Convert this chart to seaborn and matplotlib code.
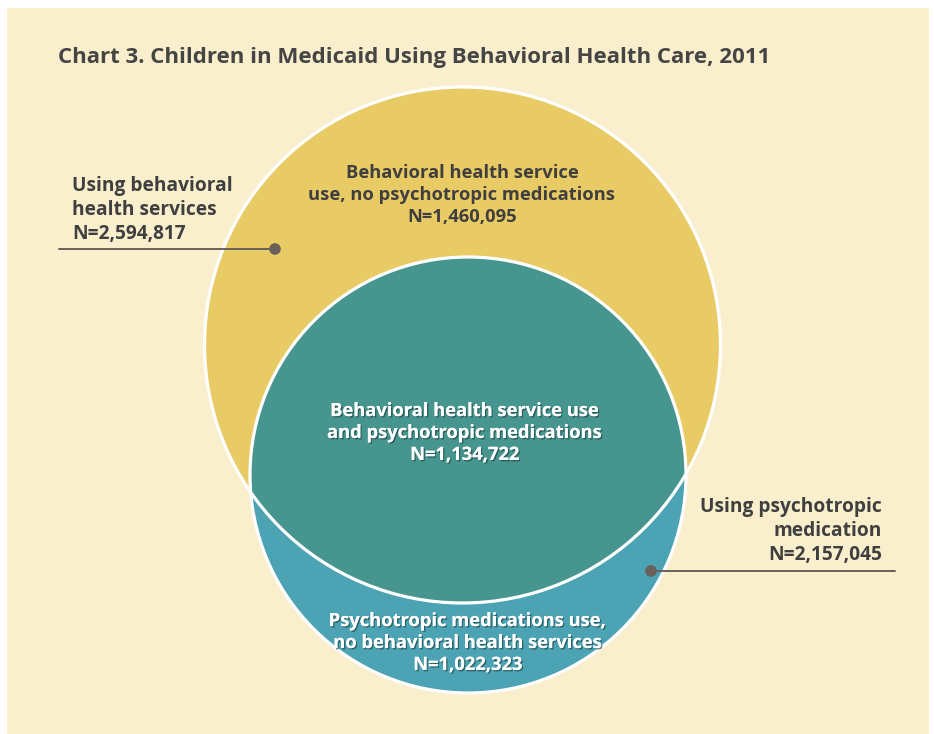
import matplotlib
matplotlib.use("Agg")
import matplotlib.pyplot as plt
import matplotlib.patches as mpatches
import matplotlib.patheffects as pe
import seaborn as sns
import pandas as pd

# ---- data ----
groups = ["Using behavioral health services", "Using psychotropic medication"]
group_totals = [2594817, 2157045]
segments = [
    "Behavioral health service use, no psychotropic medications",
    "Behavioral health service use and psychotropic medications",
    "Psychotropic medications use, no behavioral health services",
]
segment_counts = [1460095, 1134722, 1022323]
title = "Chart 3. Children in Medicaid Using Behavioral Health Care, 2011"

sns.set_theme(style="white")
plt.rcParams["font.family"] = ["Open Sans", "DejaVu Sans"]

W, H = 934, 734
fig = plt.figure(figsize=(W / 100, H / 100), dpi=100)
fig.patch.set_facecolor("white")
ax = fig.add_axes([0, 0, 1, 1])
ax.set_xlim(0, W)
ax.set_ylim(H, 0)
ax.set_aspect("equal")
ax.axis("off")

BG = "#FAEFCD"
YEL = "#E9CB65"
TEAL = "#46958F"
BLUE = "#4BA3B3"
DARK = "#3F3F3F"
LEAD = "#6B615B"

ax.add_patch(mpatches.Rectangle((7, 8), 922, 730, facecolor=BG, edgecolor="none", zorder=0))

# circles
c1 = (462.5, 345.0); r1 = 258.0
c2 = (468.0, 475.0); r2 = 218.0
yel = mpatches.Circle(c1, r1, facecolor=YEL, edgecolor="none", zorder=1)
ax.add_patch(yel)
blue = mpatches.Circle(c2, r2, facecolor=BLUE, edgecolor="none", zorder=2)
ax.add_patch(blue)
clipc = mpatches.Circle(c1, r1, transform=ax.transData)
teal = mpatches.Circle(c2, r2, facecolor=TEAL, edgecolor="none", zorder=3)
ax.add_patch(teal)
teal.set_clip_path(clipc)
for c, r in [(c1, r1), (c2, r2)]:
    ax.add_patch(mpatches.Circle(c, r, facecolor="none", edgecolor="white", lw=2.3, zorder=4))

# leader lines and dots
ax.plot([59, 275], [249, 249], color=LEAD, lw=1.4, zorder=5)
ax.plot([651, 895], [571, 571], color=LEAD, lw=1.4, zorder=5)
dots = pd.DataFrame({"x": [275, 651], "y": [249, 571], "g": groups})
sns.scatterplot(data=dots, x="x", y="y", color=LEAD, s=70, edgecolor="none", ax=ax, zorder=6, legend=False)
ax.set_xlabel(""); ax.set_ylabel("")
ax.set_xlim(0, W); ax.set_ylim(H, 0)

fs = 13.2
fo = 13.8
ax.text(58, 58, title, fontsize=16.0, fontweight="bold", color="#454545", va="center", ha="left", zorder=7)

def fmt(n):
    return f"N={n:,}"

ax.text(72, 210, "Using behavioral\nhealth services\n" + fmt(group_totals[0]),
        fontsize=fo, fontweight="bold", color=DARK, ha="left", va="center", linespacing=1.25, zorder=7)
ax.text(882, 531, "Using psychotropic\nmedication\n" + fmt(group_totals[1]),
        fontsize=fo, fontweight="bold", color=DARK, ha="right", va="center", multialignment="right",
        linespacing=1.25, zorder=7)

ax.text(462, 195, "Behavioral health service\nuse, no psychotropic medications\n" + fmt(segment_counts[0]),
        fontsize=fs, fontweight="bold", color=DARK, ha="center", va="center", linespacing=1.3, zorder=7)
shadow = [pe.withSimplePatchShadow(offset=(1, -1), shadow_rgbFace="#1a3a3a", alpha=0.6), pe.Normal()]
ax.text(465, 433, "Behavioral health service use\nand psychotropic medications\n" + fmt(segment_counts[1]),
        fontsize=fs, fontweight="bold", color="white", ha="center", va="center", linespacing=1.28,
        zorder=7, path_effects=shadow)
ax.text(468, 643, "Psychotropic medications use,\nno behavioral health services\n" + fmt(segment_counts[2]),
        fontsize=fs, fontweight="bold", color="white", ha="center", va="center", linespacing=1.28,
        zorder=7, path_effects=shadow)

fig.savefig("out.png", dpi=100, facecolor="white")
